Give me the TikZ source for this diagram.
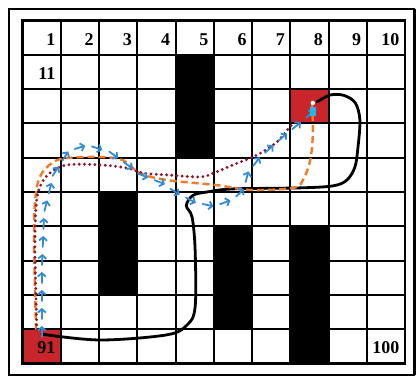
\documentclass[tikz,border=0pt]{standalone}
\usepackage{fontspec}
\setmainfont{Liberation Serif}
\usetikzlibrary{arrows.meta,decorations.markings}
\definecolor{CellRed}{RGB}{200,38,42}
\definecolor{StepBlue}{RGB}{48,140,214}
\definecolor{TrackOrange}{RGB}{240,122,40}
\definecolor{TrackWine}{RGB}{142,22,42}

\tikzset{
  num/.style={anchor=east,inner sep=0pt,font=\bfseries\fontsize{18}{18}\selectfont},
  wall/.style={fill=black},
  goalcell/.style={fill=CellRed},
  stepmark/.style={StepBlue,line width=1.8pt,line cap=round,-{Straight Barb[length=3.5pt,width=8pt]}},
  track/.style={line width=2.8pt,line cap=round},
}

\begin{document}
\begin{tikzpicture}[x=38.23pt,y=-34.26pt]
\useasboundingbox (-0.594,-0.604) rectangle (10.314,10.40);
\draw[line width=1.8pt] (-0.358,-0.342) rectangle (10.236,10.34);
\draw[line width=3.5pt] (10.25,-0.342) -- (10.25,10.34);

\fill[wall] (4,1) rectangle (5,4);
\fill[wall] (2,5) rectangle (3,8);
\fill[wall] (5,6) rectangle (6,9);
\fill[wall] (7,6) rectangle (8,10);
\fill[goalcell] (7,2) rectangle (8,3);
\fill[goalcell] (0,9) rectangle (1,10);

\foreach \i in {1,...,9}{
  \draw[line width=2pt] (\i,0) -- (\i,10);
  \draw[line width=2pt] (0,\i) -- (10,\i);
}
\draw[line width=2.8pt] (0,0) rectangle (10,10);

\foreach \n in {1,...,10}
  \node[num] (n\n) at (\n-0.14,0.55) {\n};
\node[num] (n11) at (0.86,1.55) {11};
\node[num] (n91) at (0.86,9.53) {91};
\node[num] (n100) at (9.86,9.53) {100};

% black route
\draw[track,black] plot[smooth,tension=0.55] coordinates {
  (0.50,9.15) (2.02,9.32) (3.77,9.17) (4.30,8.88) (4.51,8.36) (4.51,6.69)
  (4.43,5.73) (4.28,5.40) (4.45,5.10) (4.82,5.0) (5.50,4.91) (7.25,4.88)
  (8.12,4.82) (8.48,4.65) (8.69,4.27) (8.77,3.69) (8.82,2.90) (8.70,2.40)
  (8.40,2.18) (8.04,2.17) (7.70,2.37)};

% orange route
\draw[TrackOrange,line width=2.4pt,dash pattern=on 7pt off 4pt] plot[smooth,tension=0.6] coordinates {
  (0.35,9.03) (0.30,6.69) (0.32,5.32) (0.45,4.56) (0.77,4.15) (1.16,4.01)
  (2.02,3.98) (2.62,4.07) (3.07,4.45) (3.77,4.65) (5.08,4.80) (5.95,4.94)
  (7.07,4.88) (7.33,4.65) (7.52,4.07) (7.59,3.28) (7.57,2.46)};

% wine dotted route
\draw[track,TrackWine,line width=3.2pt,dash pattern=on 0pt off 5.2pt] plot[smooth,tension=0.6] coordinates {
  (0.37,9.03) (0.32,6.69) (0.35,5.44) (0.45,4.85) (0.71,4.45) (1.16,4.21)
  (2.02,4.21) (2.73,4.30) (3.15,4.45) (3.77,4.50) (4.64,4.56) (4.98,4.45)
  (5.50,4.21) (6.13,3.92) (6.65,3.54) (6.99,3.10) (7.20,2.90)};

% blue steps
\path[postaction=decorate,decoration={markings,
  mark=between positions 0.01 and 1 step 18pt with {\draw[stepmark] (-6pt,0) -- (5pt,0);}}]
  (0.50,9.20) -- (0.50,7.30) -- (0.56,5.60) -- (0.80,4.50) -- (1.20,3.80) -- (1.70,3.63)
  -- (2.30,3.85) -- (3.10,4.50) -- (3.60,4.72) -- (4.04,5.03) -- (4.50,5.30) -- (5.00,5.42)
  -- (5.50,5.22) -- (5.78,4.92) -- (5.90,4.42) -- (6.21,3.98) -- (6.90,3.30) -- (7.35,2.90) -- (7.66,2.58);

% agent
\fill[StepBlue!60!cyan] (7.51,2.52) rectangle (7.67,2.78);
\fill[white] (7.59,2.40) circle (2.2pt);
\end{tikzpicture}
\end{document}
